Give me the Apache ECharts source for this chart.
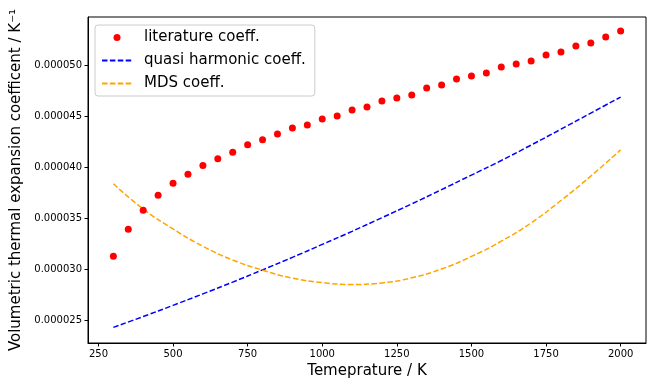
<!DOCTYPE html>
<html>
<head>
<meta charset="utf-8">
<script src="https://cdn.jsdelivr.net/npm/echarts@6/dist/echarts.min.js"></script>
<style>
html,body{margin:0;padding:0;background:#fff;}
#c{width:656px;height:386px;}
</style>
</head>
<body>
<div id="c"></div>
<script>
// Temperatures (K)
var litT = [300,350,400,450,500,550,600,650,700,750,800,850,900,950,1000,1050,1100,1150,1200,1250,1300,1350,1400,1450,1500,1550,1600,1650,1700,1750,1800,1850,1900,1950,2000];
var litV = [31.27e-6,33.93e-6,35.80e-6,37.27e-6,38.45e-6,39.34e-6,40.20e-6,40.85e-6,41.50e-6,42.22e-6,42.72e-6,43.28e-6,43.87e-6,44.16e-6,44.75e-6,45.05e-6,45.64e-6,45.93e-6,46.52e-6,46.82e-6,47.12e-6,47.80e-6,48.10e-6,48.69e-6,48.99e-6,49.28e-6,49.87e-6,50.17e-6,50.46e-6,51.05e-6,51.35e-6,51.94e-6,52.23e-6,52.83e-6,53.42e-6];

var curveT = [300,400,500,600,700,800,900,1000,1100,1200,1300,1400,1500,1600,1700,1800,1900,2000];
var qhV = [24.28e-6,25.34e-6,26.44e-6,27.57e-6,28.73e-6,29.93e-6,31.16e-6,32.43e-6,33.72e-6,35.06e-6,36.42e-6,37.82e-6,39.25e-6,40.68e-6,42.20e-6,43.76e-6,45.34e-6,46.92e-6];
var mdsV = [38.39e-6,35.92e-6,33.95e-6,32.25e-6,30.90e-6,29.90e-6,29.12e-6,28.68e-6,28.50e-6,28.65e-6,29.15e-6,30.02e-6,31.25e-6,32.75e-6,34.55e-6,36.75e-6,39.15e-6,41.73e-6];

var xTicks = [250,500,750,1000,1250,1500,1750,2000];
var yTicks = [25e-6,30e-6,35e-6,40e-6,45e-6,50e-6];

function pairs(xs, ys){ return xs.map(function(x,i){ return [x, ys[i]]; }); }

var FONT = 'DejaVu Sans';
var hideSym = {color: 'rgba(0,0,0,0)', borderWidth: 0, opacity: 0};
var chart = echarts.init(document.getElementById('c'), null, {renderer:'canvas'});
chart.setOption({
  animation: false,
  backgroundColor: '#fff',
  textStyle: {fontFamily: FONT},
  grid: {left: 88, right: 10, top: 17, bottom: 43, show: true, borderColor: '#000', borderWidth: 1, backgroundColor: 'transparent'},
  legend: {
    orient: 'vertical', left: 95, top: 25,
    itemWidth: 30, itemHeight: 7, itemGap: 8,
    padding: [5, 9, 5, 6],
    backgroundColor: 'rgba(255,255,255,0.8)',
    borderColor: '#cccccc', borderWidth: 1, borderRadius: 3,
    textStyle: {fontSize: 15, color: '#000', fontFamily: FONT, padding: [0,0,0,7]},
    data: [
      {name: 'literature coeff.'},
      {name: 'quasi harmonic coeff.', itemStyle: hideSym},
      {name: 'MDS coeff.', itemStyle: hideSym}
    ]
  },
  xAxis: {
    type: 'value', min: 215, max: 2085,
    name: 'Temeprature / K', nameLocation: 'middle', nameGap: 20,
    nameTextStyle: {fontSize: 15, color: '#000', fontFamily: FONT},
    axisLine: {show: true, lineStyle: {color: '#000', width: 1}},
    axisTick: {show: true, customValues: xTicks, length: 3.5, lineStyle: {color: '#000', width: 1}},
    axisLabel: {customValues: xTicks, fontSize: 10, color: '#000', margin: 6, fontFamily: FONT,
      formatter: function(v){ return String(Math.round(v)); }},
    splitLine: {show: false}
  },
  yAxis: {
    type: 'value', min: 22.74e-6, max: 54.79e-6,
    name: 'Volumetric thermal expansion coefficent / K\u207B\u00B9', nameLocation: 'middle', nameGap: 64,
    nameTextStyle: {fontSize: 15, color: '#000', fontFamily: FONT},
    axisLine: {show: true, lineStyle: {color: '#000', width: 1}},
    axisTick: {show: true, customValues: yTicks, length: 3.5, lineStyle: {color: '#000', width: 1}},
    axisLabel: {customValues: yTicks, fontSize: 10, color: '#000', margin: 6, fontFamily: FONT,
      formatter: function(v){ return v.toFixed(6); }},
    splitLine: {show: false}
  },
  series: [
    {
      name: 'literature coeff.', type: 'scatter', symbol: 'circle', symbolSize: 7,
      itemStyle: {color: '#ff0000', opacity: 1},
      data: pairs(litT, litV), z: 3
    },
    {
      name: 'quasi harmonic coeff.', type: 'line', symbol: 'none', smooth: 0.5,
      lineStyle: {color: '#0000ff', width: 1.5, type: [5.5, 2.4]},
      itemStyle: {color: '#0000ff'},
      data: pairs(curveT, qhV)
    },
    {
      name: 'MDS coeff.', type: 'line', symbol: 'none', smooth: 0.5,
      lineStyle: {color: '#ffa500', width: 1.5, type: [5.5, 2.4]},
      itemStyle: {color: '#ffa500'},
      data: pairs(curveT, mdsV)
    }
  ]
});
</script>
</body>
</html>
